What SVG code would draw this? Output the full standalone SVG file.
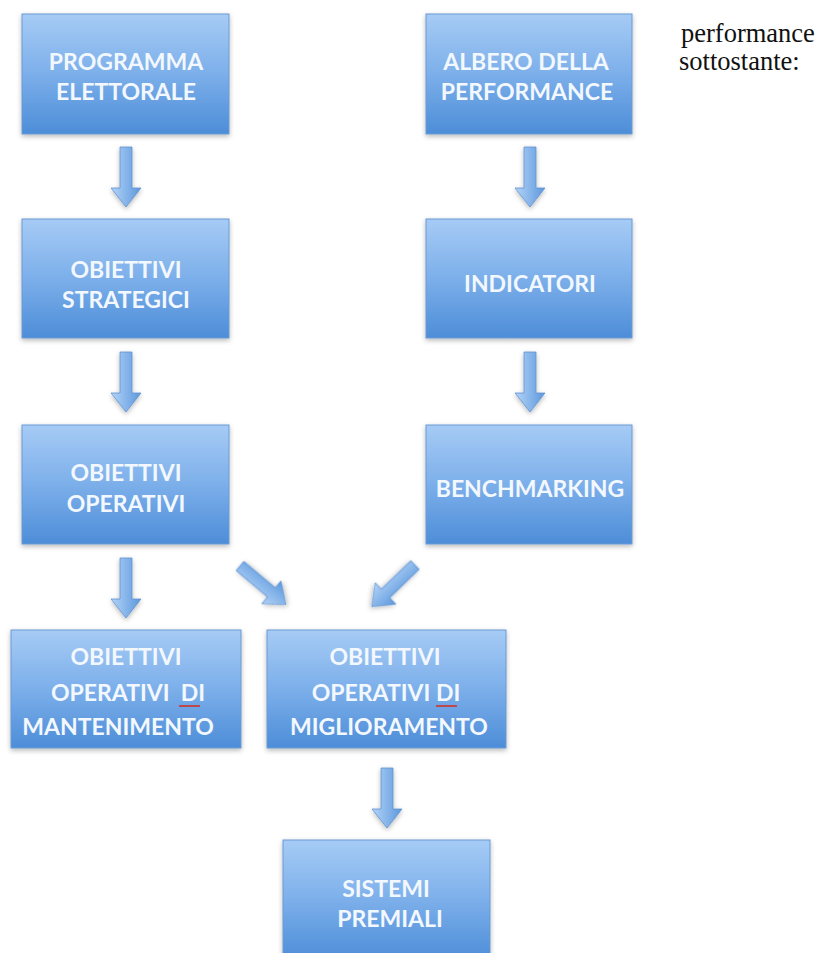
<svg xmlns="http://www.w3.org/2000/svg" xmlns:xlink="http://www.w3.org/1999/xlink" width="818" height="953" viewBox="0 0 818 953">
  <style>
    .box { fill: url(#boxGrad); stroke: #6a9ad4; stroke-width: 1; filter: url(#shadow); }
    .t { font-family: Lato, "Liberation Sans", sans-serif; font-weight: bold; font-size: 23px; fill: #f3f8fe; text-anchor: middle; }
    .side { font-family: "Liberation Serif", "Times New Roman", serif; font-size: 26.5px; fill: #111111; }
    .arrow { fill: url(#arrowGrad); stroke: #5f93cf; stroke-width: 0.8; filter: url(#shadow); }
    .squiggle { stroke: #d0302a; stroke-width: 1.6; fill: none; }
  </style>
  <defs>
    <linearGradient id="boxGrad" x1="0" y1="0" x2="0" y2="1">
      <stop offset="0" stop-color="#a6cbf5"/>
      <stop offset="0.5" stop-color="#7cafea"/>
      <stop offset="1" stop-color="#4d8dd8"/>
    </linearGradient>
    <linearGradient id="arrowGrad" x1="0" y1="0" x2="1" y2="0">
      <stop offset="0" stop-color="#b3d3f7"/>
      <stop offset="1" stop-color="#5c98dc"/>
    </linearGradient>
    <filter id="shadow" x="-10%" y="-10%" width="120%" height="125%">
      <feDropShadow dx="0" dy="2" stdDeviation="2.5" flood-color="#000000" flood-opacity="0.28"/>
    </filter>
    <polygon id="arr" class="arrow" points="-6,0 6,0 6,41 15,41 0,60 -15,41 -6,41"/>
  </defs>
  <rect width="818" height="953" fill="#ffffff"/>

  <g id="connectors">
    <use xlink:href="#arr" transform="translate(126,147)"/>
    <use xlink:href="#arr" transform="translate(126,352)"/>
    <use xlink:href="#arr" transform="translate(126,558)"/>
    <use xlink:href="#arr" transform="translate(530,147)"/>
    <use xlink:href="#arr" transform="translate(530,352)"/>
    <use xlink:href="#arr" transform="translate(240,566) rotate(-50)"/>
    <use xlink:href="#arr" transform="translate(415,565) rotate(46)"/>
    <use xlink:href="#arr" transform="translate(387,768)"/>
  </g>

  <g id="programma">
    <rect class="box" x="22" y="14" width="207" height="120"/>
    <text class="t" x="126" y="70">PROGRAMMA</text>
    <text class="t" x="126" y="100">ELETTORALE</text>
  </g>
  <g id="albero">
    <rect class="box" x="426" y="14" width="206" height="120"/>
    <text class="t" x="526" y="70">ALBERO DELLA</text>
    <text class="t" x="527" y="100">PERFORMANCE</text>
  </g>
  <g id="strategici">
    <rect class="box" x="22" y="219" width="207" height="119"/>
    <text class="t" x="126" y="278">OBIETTIVI</text>
    <text class="t" x="126" y="308">STRATEGICI</text>
  </g>
  <g id="indicatori">
    <rect class="box" x="426" y="219" width="206" height="119"/>
    <text class="t" x="530" y="292">INDICATORI</text>
  </g>
  <g id="operativi">
    <rect class="box" x="22" y="425" width="207" height="119"/>
    <text class="t" x="126" y="481">OBIETTIVI</text>
    <text class="t" x="126" y="512">OPERATIVI</text>
  </g>
  <g id="benchmarking">
    <rect class="box" x="426" y="425" width="206" height="119"/>
    <text class="t" x="530" y="497">BENCHMARKING</text>
  </g>
  <g id="mantenimento">
    <rect class="box" x="11" y="630" width="230" height="118"/>
    <text class="t" x="126" y="665">OBIETTIVI</text>
    <text class="t" x="128" y="701" xml:space="preserve">OPERATIVI  DI</text>
    <line class="squiggle" x1="179" y1="706" x2="200" y2="706"/>
    <text class="t" x="118" y="735">MANTENIMENTO</text>
  </g>
  <g id="miglioramento">
    <rect class="box" x="267" y="630" width="239" height="118"/>
    <text class="t" x="385" y="665">OBIETTIVI</text>
    <text class="t" x="386" y="701">OPERATIVI DI</text>
    <line class="squiggle" x1="436" y1="706" x2="457" y2="706"/>
    <text class="t" x="389" y="735">MIGLIORAMENTO</text>
  </g>
  <g id="sistemi">
    <rect class="box" x="283" y="840" width="207" height="120"/>
    <text class="t" x="386" y="897">SISTEMI</text>
    <text class="t" x="390" y="927">PREMIALI</text>
  </g>

  <g id="side-text">
    <text class="side" x="681" y="42">performance</text>
    <text class="side" x="679" y="70">sottostante:</text>
  </g>
</svg>
